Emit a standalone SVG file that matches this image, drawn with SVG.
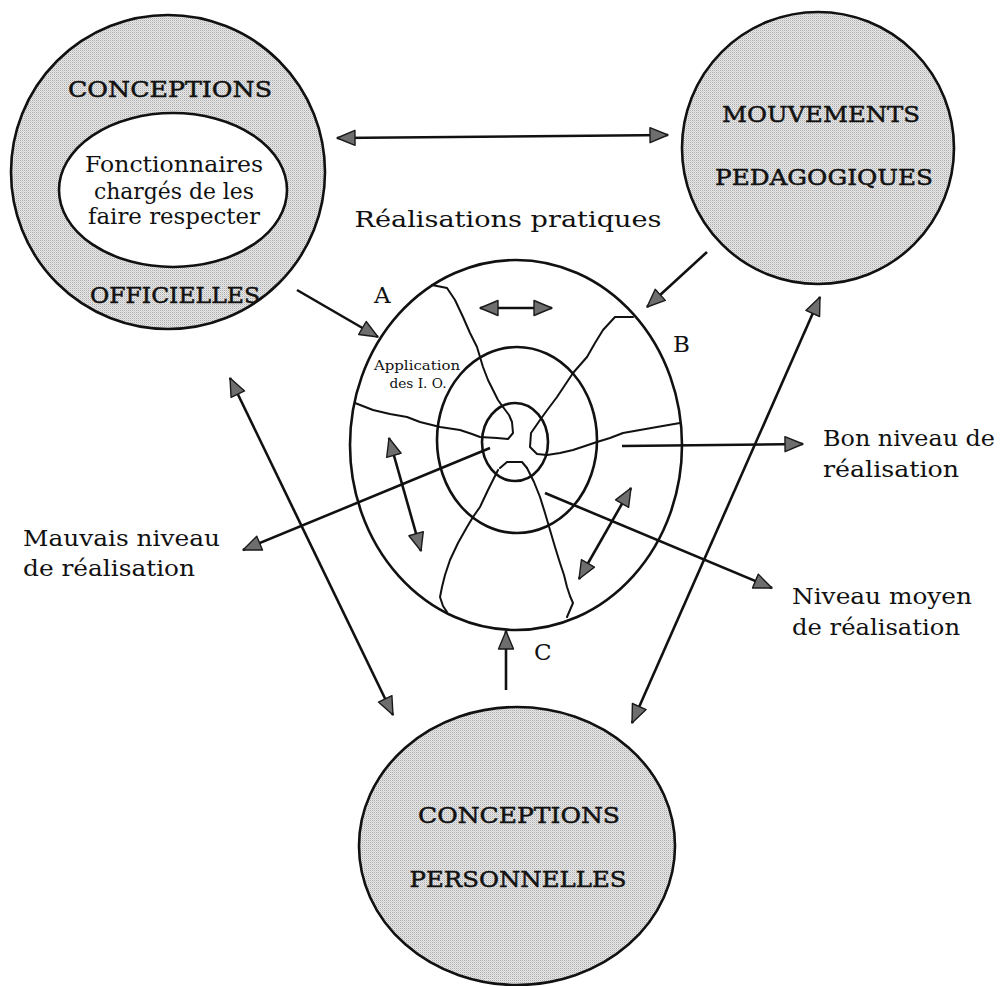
<svg xmlns="http://www.w3.org/2000/svg" width="1003" height="986" viewBox="0 0 1003 986">
  <defs>
    <!-- halftone grey screen used for the three concept discs -->
    <pattern id="screen" width="2" height="2" patternUnits="userSpaceOnUse">
      <rect width="2" height="2" fill="#e8e8e8"/>
      <rect width="1" height="1" fill="#acacac"/>
      <rect x="1" y="1" width="1" height="1" fill="#d0d0d0"/>
    </pattern>
    <marker id="head" markerUnits="userSpaceOnUse" markerWidth="22" markerHeight="20" refX="19" refY="9" orient="auto-start-reverse">
      <path d="M1,1.5 L19,9 L1,16.5 Z" fill="#6e6e6e" stroke="#1a1a1a" stroke-width="1.4" stroke-linejoin="round"/>
    </marker>
  </defs>
  <style>
    .disc { fill: url(#screen); stroke: #111; stroke-width: 2.6; }
    .ring { fill: none; stroke: #111; stroke-width: 2.6; }
    .crack { fill: none; stroke: #111; stroke-width: 2; stroke-linejoin: round; stroke-linecap: round; }
    .link { fill: none; stroke: #111; stroke-width: 2.6; }
    .one { marker-end: url(#head); }
    .two { marker-start: url(#head); marker-end: url(#head); }
    .caps { font-family: "DejaVu Serif", "Liberation Serif", serif; font-size: 23px; fill: #111; stroke: #111; stroke-width: 0.5; }
    .lbl { font-family: "DejaVu Serif", "Liberation Serif", serif; font-size: 23px; fill: #111; }
    .small { font-family: "DejaVu Serif", "Liberation Serif", serif; font-size: 13px; fill: #111; }
  </style>

  <!-- connectors -->
  <g id="connectors">
    <line class="link two" x1="337" y1="138" x2="668" y2="135"/>
    <line class="link one" x1="297" y1="290" x2="378" y2="337"/>
    <line class="link one" x1="707" y1="252" x2="647" y2="307"/>
    <line class="link two" x1="230" y1="378" x2="393" y2="715"/>
    <line class="link two" x1="820" y1="297" x2="632" y2="723"/>
    <line class="link one" x1="506" y1="690" x2="506" y2="631"/>
    <line class="link one" x1="490" y1="448" x2="243" y2="550"/>
    <line class="link one" x1="622" y1="446" x2="803" y2="444"/>
    <line class="link one" x1="545" y1="493" x2="772" y2="588"/>
  </g>

  <!-- official conceptions -->
  <g id="officielles">
    <circle class="disc" cx="168" cy="172" r="157"/>
    <ellipse cx="173" cy="190" rx="114" ry="77" fill="#fff" stroke="#111" stroke-width="2.6"/>
    <text class="caps" x="170" y="97" text-anchor="middle" textLength="204" lengthAdjust="spacingAndGlyphs">CONCEPTIONS</text>
    <text class="caps" x="175" y="303" text-anchor="middle" textLength="170" lengthAdjust="spacingAndGlyphs">OFFICIELLES</text>
    <text class="lbl" x="174" y="172" text-anchor="middle" textLength="178" lengthAdjust="spacingAndGlyphs">Fonctionnaires</text>
    <text class="lbl" x="174" y="199" text-anchor="middle" textLength="160" lengthAdjust="spacingAndGlyphs">chargés de les</text>
    <text class="lbl" x="174" y="224" text-anchor="middle" textLength="172" lengthAdjust="spacingAndGlyphs">faire respecter</text>
  </g>

  <!-- pedagogical movements -->
  <g id="mouvements">
    <circle class="disc" cx="818" cy="148" r="136"/>
    <text class="caps" x="821" y="122" text-anchor="middle" textLength="198" lengthAdjust="spacingAndGlyphs">MOUVEMENTS</text>
    <text class="caps" x="824" y="185" text-anchor="middle" textLength="218" lengthAdjust="spacingAndGlyphs">PEDAGOGIQUES</text>
  </g>

  <!-- personal conceptions -->
  <g id="personnelles">
    <ellipse class="disc" cx="517" cy="846" rx="158" ry="139"/>
    <text class="caps" x="519" y="823" text-anchor="middle" textLength="202" lengthAdjust="spacingAndGlyphs">CONCEPTIONS</text>
    <text class="caps" x="518" y="887" text-anchor="middle" textLength="217" lengthAdjust="spacingAndGlyphs">PERSONNELLES</text>
  </g>

  <!-- practical realisations: nested rings split into sectors -->
  <g id="realisations">
    <text class="lbl" x="508" y="227" text-anchor="middle" textLength="307" lengthAdjust="spacingAndGlyphs">Réalisations  pratiques</text>
    <ellipse class="ring" cx="516" cy="445" rx="166" ry="185"/>
    <ellipse class="ring" cx="517" cy="440" rx="80" ry="93"/>
    <ellipse class="ring" cx="515" cy="442" rx="33" ry="39"/>
    <path class="crack" d="M432,285 L447,288 L455,300 L463,317 L470,333 L477,347 L483,367 L488,380 L493,390 L498,400 L503,407 L509,415 L512,422 L513,433 L508,439 L497,438"/>
    <path class="crack" d="M355,403 L373,410 L390,414 L407,417 L420,422 L440,427 L460,430 L472,434 L480,437 L497,438"/>
    <path class="crack" d="M633,317 L615,317 L603,330 L595,343 L587,357 L580,365 L573,373 L565,385 L557,397 L548,409 L540,420 L531,433 L530,447 L537,454 L547,455"/>
    <path class="crack" d="M547,455 L560,453 L573,450 L585,446 L597,442 L610,438 L623,433 L640,430 L657,427 L680,423"/>
    <path class="crack" d="M500,468 L507,462 L522,462 L527,468"/>
    <path class="crack" d="M498,470 L488,490 L480,507 L473,517 L467,527 L458,543 L450,560 L445,575 L442,587 L440,597 L443,606 L447,612"/>
    <path class="crack" d="M527,468 L534,482 L540,497 L545,513 L550,530 L555,547 L560,563 L564,575 L567,587 L570,596 L573,603 L570,610 L567,617"/>
    <line class="link two" x1="480" y1="308" x2="552" y2="308"/>
    <line class="link two" x1="389" y1="438" x2="421" y2="551"/>
    <line class="link two" x1="631" y1="488" x2="579" y2="579"/>
    <text class="small" x="417" y="370" text-anchor="middle" textLength="86" lengthAdjust="spacingAndGlyphs">Application</text>
    <text class="small" x="418" y="388" text-anchor="middle" textLength="57" lengthAdjust="spacingAndGlyphs">des I. O.</text>
    <text class="lbl" x="374" y="303">A</text>
    <text class="lbl" x="673" y="352">B</text>
    <text class="lbl" x="534" y="660">C</text>
  </g>

  <!-- level outcomes -->
  <g id="mauvais">
    <text class="lbl" x="23" y="546" textLength="197" lengthAdjust="spacingAndGlyphs">Mauvais  niveau</text>
    <text class="lbl" x="23" y="576" textLength="172" lengthAdjust="spacingAndGlyphs">de  réalisation</text>
  </g>
  <g id="bon">
    <text class="lbl" x="823" y="446" textLength="172" lengthAdjust="spacingAndGlyphs">Bon  niveau de</text>
    <text class="lbl" x="823" y="477" textLength="136" lengthAdjust="spacingAndGlyphs">réalisation</text>
  </g>
  <g id="moyen">
    <text class="lbl" x="792" y="604" textLength="180" lengthAdjust="spacingAndGlyphs">Niveau  moyen</text>
    <text class="lbl" x="792" y="635" textLength="168" lengthAdjust="spacingAndGlyphs">de  réalisation</text>
  </g>
</svg>
